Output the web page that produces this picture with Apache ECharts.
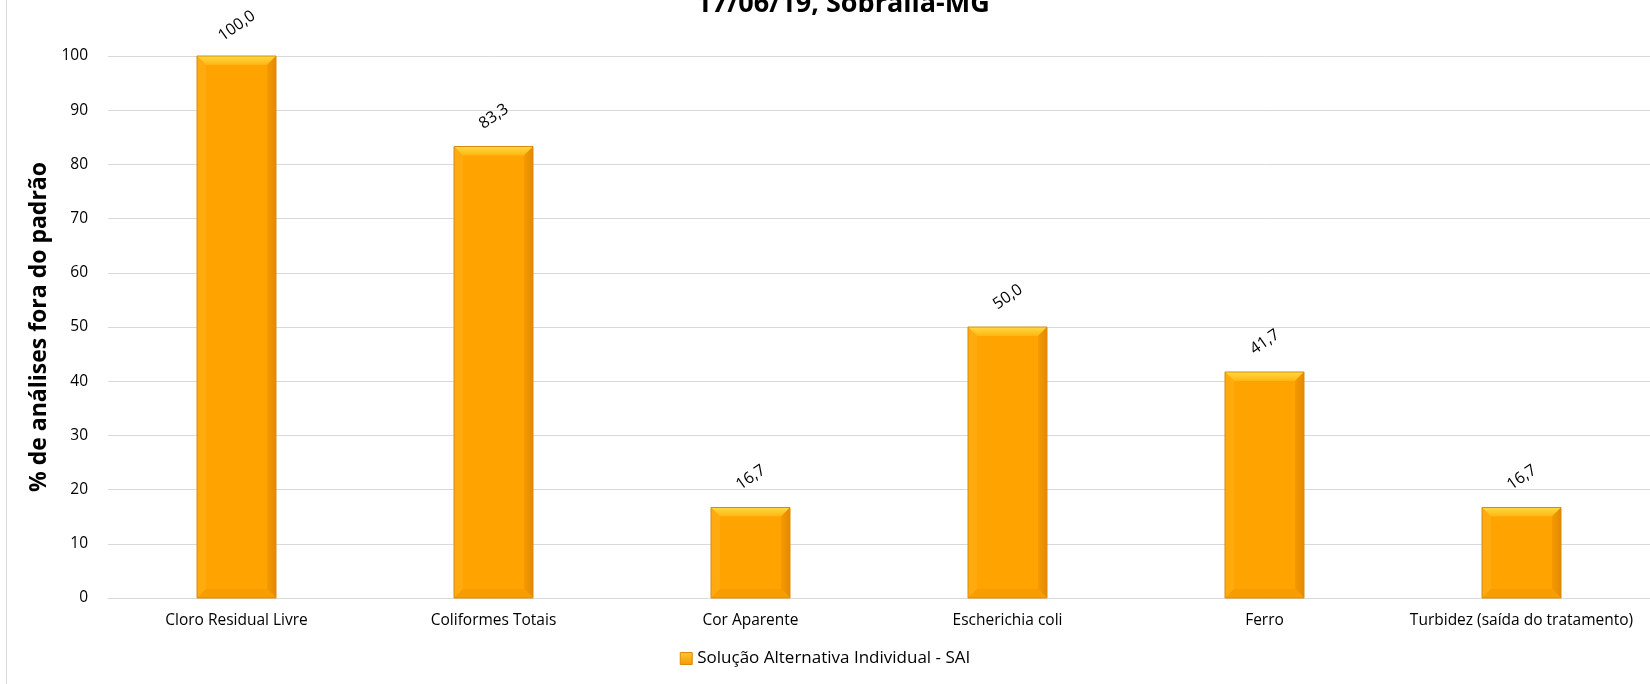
<!DOCTYPE html>
<html>
<head>
<meta charset="utf-8">
<script src="https://cdn.jsdelivr.net/npm/echarts@6/dist/echarts.min.js"></script>
<style>
html,body{margin:0;padding:0;background:#fff;}
#chart{width:1650px;height:684px;}
</style>
</head>
<body>
<div id="chart"></div>
<script>
const titleText = "17/06/19, Sobrália-MG";
const categories = ["Cloro Residual Livre","Coliformes Totais","Cor Aparente","Escherichia coli","Ferro","Turbidez (saída do tratamento)"];
const seriesName = "Solução Alternativa Individual - SAI";
const values = [100.0, 83.3, 16.7, 50.0, 41.7, 16.7];
const yAxisName = "% de análises fora do padrão";
const yTicks = [0,10,20,30,40,50,60,70,80,90,100];

const FONT = "Open Sans";
const BAR_W = 79;
const BEV = 9;
const chart = echarts.init(document.getElementById('chart'));

function renderBevel(params, api){
  const i = api.value(0);
  const v = api.value(1);
  const top = api.coord([i, v]);
  const base = api.coord([i, 0]);
  const x0 = top[0] - BAR_W/2, x1 = top[0] + BAR_W/2;
  const y0 = top[1], y1 = base[1];
  const b = Math.min(BEV, (y1-y0)/2);
  return {
    type:'group',
    silent:true,
    children:[
      {type:'polygon',shape:{points:[[x0,y0],[x1,y0],[x1-b,y0+b],[x0+b,y0+b]]},
        style:{fill:new echarts.graphic.LinearGradient(0,0,0,1,[{offset:0,color:'#FFDA40'},{offset:1,color:'#FFB514'}])}},
      {type:'polygon',shape:{points:[[x0,y0],[x0+b,y0+b],[x0+b,y1-b],[x0,y1]]},
        style:{fill:'#FFAB10'}},
      {type:'polygon',shape:{points:[[x1,y0],[x1,y1],[x1-b,y1-b],[x1-b,y0+b]]},
        style:{fill:new echarts.graphic.LinearGradient(0,0,1,0,[{offset:0,color:'#F59A00'},{offset:1,color:'#E48900'}])}},
      {type:'polygon',shape:{points:[[x0,y1],[x0+b,y1-b],[x1-b,y1-b],[x1,y1]]},
        style:{fill:'#F89D00'}},
      {type:'rect',shape:{x:x0,y:y0,width:BAR_W,height:y1-y0},
        style:{fill:'none',stroke:'#D88A10',lineWidth:1}}
    ]
  };
}

chart.setOption({
  animation:false,
  backgroundColor:'#fff',
  title:{
    text:titleText,
    left:838, textAlign:'center',
    top:-14,
    textStyle:{fontFamily:FONT,fontSize:27,fontWeight:'bold',color:'#000'}
  },
  graphic:[{type:'line',shape:{x1:6.5,y1:0,x2:6.5,y2:684},style:{stroke:'#d9d9d9',lineWidth:1}}],
  legend:{
    data:[seriesName],
    bottom:12,
    left:'center',
    itemWidth:12,itemHeight:12,
    itemGap:6,
    icon:'rect',
    itemStyle:{color:new echarts.graphic.LinearGradient(0,0,0,1,[{offset:0,color:'#FFC830'},{offset:1,color:'#F59A00'}]),borderColor:'#D88A10',borderWidth:1},
    textStyle:{fontFamily:FONT,fontSize:17,color:'#000'}
  },
  grid:{left:108,right:0,top:56,bottom:86,containLabel:false},
  xAxis:{
    type:'category',
    data:categories,
    axisLine:{lineStyle:{color:'#d9d9d9'}},
    axisTick:{show:false},
    axisLabel:{fontFamily:FONT,fontSize:15.5,color:'#000',margin:15,interval:0}
  },
  yAxis:{
    type:'value',
    min:0,max:100,interval:10,
    name:yAxisName,
    nameLocation:'middle',
    nameGap:56,
    nameTextStyle:{fontFamily:FONT,fontSize:23,fontWeight:'bold',color:'#000'},
    axisLine:{show:false},
    axisTick:{show:false},
    splitLine:{lineStyle:{color:'#d9d9d9'}},
    axisLabel:{fontFamily:FONT,fontSize:15.5,color:'#000',margin:20,
      formatter:v=>yTicks.includes(v)?String(v):''}
  },
  series:[{
    name:seriesName,
    type:'bar',
    data:values,
    barWidth:BAR_W,
    itemStyle:{color:'#FFA300'},
    label:{
      show:true,position:'top',distance:20,rotate:35,offset:[6,0],
      fontFamily:FONT,fontSize:16,color:'#000',
      formatter:p=>p.value.toFixed(1).replace('.',',')
    }
  },{
    name:'bevel',
    type:'custom',
    renderItem:renderBevel,
    data:values.map((v,i)=>[i,v]),
    encode:{x:0,y:1},
    z:3
  }]
});
</script>
</body>
</html>
